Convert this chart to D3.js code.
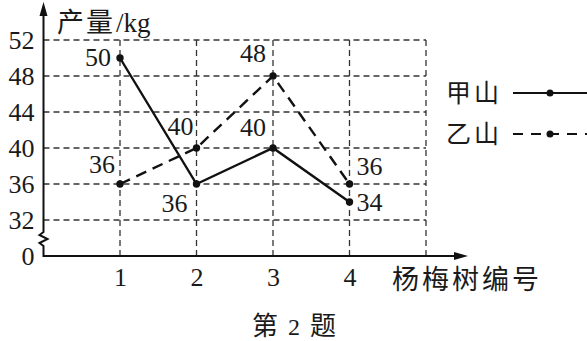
<!DOCTYPE html>
<html>
<head>
<meta charset="utf-8">
<script src="https://cdn.jsdelivr.net/npm/d3@7"></script>
<style>
  body { margin: 0; background: #fff; }
  svg { display: block; }
</style>
</head>
<body>
<div id="chart"></div>
<script>
// DATA
const trees = [1, 2, 3, 4];
const jiaShan = [50, 36, 40, 34];
const yiShan = [36, 40, 48, 36];
const yTicks = [28, 32, 36, 40, 44, 48, 52]; // 28 is drawn as "0" (axis break)
const yTickLabels = ["0", "32", "36", "40", "44", "48", "52"];
const seriesNames = ["甲山", "乙山"];
// label offsets per point: [dx, dy, anchor]
const jiaLabelPos = [[-9, 8, "end"], [-9, 28, "end"], [-7, -12, "end"], [7, 9, "start"]];
const yiLabelPos = [[-5, -11, "end"], [-3, -13, "end"], [-7, -14, "end"], [7, -9, "start"]];

const W = 587, H = 341;
const SERIF = "'Liberation Serif', 'DejaVu Serif', serif";
const CJK = "'Noto Sans CJK SC', sans-serif";

let svg = d3.select("#chart").append("svg")
  .attr("width", W)
  .attr("height", H);

function num(sel) {
  return sel.style("font-family", SERIF).style("font-size", "26px").style("fill", "#1a1a1a");
}
function cjk(sel, size) {
  return sel.style("font-family", CJK).style("font-size", size || "25px").style("fill", "#1a1a1a");
}

// SCALES
let xScale = d3.scaleLinear().domain([0, 5]).range([43.5, 426]);
let yScale = d3.scaleLinear().domain([28, 52]).range([256, 40]);

// GRID
svg.append("g")
  .selectAll("line")
  .data(yTicks.slice(1))
  .enter().append("line")
  .attr("x1", xScale(0)).attr("x2", xScale(5))
  .attr("y1", d => yScale(d)).attr("y2", d => yScale(d))
  .attr("stroke", "#333").attr("stroke-width", 1.3)
  .attr("stroke-dasharray", "6,4");

svg.append("g")
  .selectAll("line")
  .data([1, 2, 3, 4, 5])
  .enter().append("line")
  .attr("x1", d => xScale(d)).attr("x2", d => xScale(d))
  .attr("y1", yScale(52)).attr("y2", yScale(28))
  .attr("stroke", "#333").attr("stroke-width", 1.3)
  .attr("stroke-dasharray", "6,4");

// AXES
const x0 = xScale(0), yb = yScale(28);
svg.append("path")
  .attr("d", `M${x0},10 L${x0},232 L${x0 - 4},235 L${x0 + 4},239 L${x0 - 4},243 L${x0},246 L${x0},${yb} L460,${yb}`)
  .attr("fill", "none").attr("stroke", "#111").attr("stroke-width", 2);
svg.append("path")
  .attr("d", `M${x0},2 L${x0 - 4},16 L${x0 + 4},16 Z`)
  .attr("fill", "#111");
svg.append("path")
  .attr("d", `M468,${yb} L454,${yb - 4} L454,${yb + 4} Z`)
  .attr("fill", "#111");

let yAxis = svg.append("g")
  .attr("transform", `translate(${x0}, 0)`)
  .call(d3.axisLeft(yScale).tickValues(yTicks).tickSize(0).tickPadding(9)
    .tickFormat((d, i) => yTickLabels[i]));
yAxis.select(".domain").remove();
num(yAxis.selectAll("text"));

let xAxis = svg.append("g")
  .attr("transform", `translate(0, ${yb})`)
  .call(d3.axisBottom(xScale).tickValues(trees).tickSize(0).tickPadding(12)
    .tickFormat(d3.format("d")));
xAxis.select(".domain").remove();
num(xAxis.selectAll("text"));

// AXIS TITLES
let yTitle = svg.append("text").attr("x", 57).attr("y", 32);
cjk(yTitle.append("tspan").attr("letter-spacing", "2px").text("产量"), "27px");
num(yTitle.append("tspan").attr("dx", 1).text("/kg")).style("font-size", "27px");
cjk(svg.append("text").attr("x", 392).attr("y", 289)
  .attr("letter-spacing", "3px").text("杨梅树编号"), "27px");

let caption = svg.append("text").attr("x", 252).attr("y", 335);
cjk(caption.append("tspan").text("第"), "26px");
num(caption.append("tspan").attr("dx", 10).text("2")).style("font-size", "24px");
cjk(caption.append("tspan").attr("dx", 10).text("题"), "26px");

// LINES
const line = d3.line()
  .x((d, i) => xScale(trees[i]))
  .y(d => yScale(d));

svg.append("path")
  .datum(jiaShan)
  .attr("d", line)
  .attr("fill", "none").attr("stroke", "#111").attr("stroke-width", 2.4);

svg.append("path")
  .datum(yiShan)
  .attr("d", line)
  .attr("fill", "none").attr("stroke", "#111").attr("stroke-width", 2.4)
  .attr("stroke-dasharray", "11,7");

// DOTS + LABELS
[[jiaShan, jiaLabelPos], [yiShan, yiLabelPos]].forEach(([vals, pos]) => {
  svg.append("g").selectAll("circle")
    .data(vals).enter().append("circle")
    .attr("cx", (d, i) => xScale(trees[i]))
    .attr("cy", d => yScale(d))
    .attr("r", 3.7).attr("fill", "#111");
  num(svg.append("g").selectAll("text")
    .data(vals).enter().append("text")
    .attr("x", (d, i) => xScale(trees[i]) + pos[i][0])
    .attr("y", (d, i) => yScale(d) + pos[i][1])
    .attr("text-anchor", (d, i) => pos[i][2])
    .text(d => d));
});

// LEGEND
const legend = svg.append("g");
seriesNames.forEach((name, i) => {
  const ly = 93 + i * 41;
  cjk(legend.append("text")
    .attr("x", 446).attr("y", ly + 9).attr("letter-spacing", "3px").text(name));
  legend.append("line")
    .attr("x1", 513).attr("x2", 587).attr("y1", ly).attr("y2", ly)
    .attr("stroke", "#111").attr("stroke-width", 2)
    .attr("stroke-dasharray", i === 0 ? null : "10,8");
  legend.append("circle").attr("cx", 550).attr("cy", ly).attr("r", 3.5).attr("fill", "#111");
});
</script>
</body>
</html>
